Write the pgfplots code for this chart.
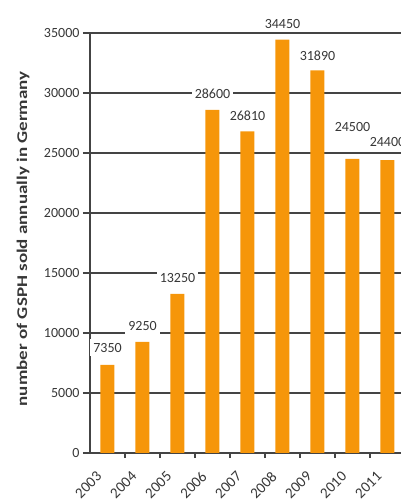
\documentclass[border=0pt]{standalone}
\usepackage{pgfplots}
\pgfplotsset{compat=1.18}
\usepackage{pgfplotstable}
\usepackage{fontspec}
\setmainfont{Carlito}

\definecolor{barorange}{RGB}{246,150,10}
\definecolor{griddark}{RGB}{68,68,68}
\definecolor{gridlight}{RGB}{165,165,165}
\definecolor{labelgray}{RGB}{55,55,55}

% GSPH units sold per year; off = vertical offset of the value label (pt)
\pgfplotstableread{
x  y     off
0  7350  17
1  9250  16
2  13250 16
3  28600 16.5
4  26810 16
5  34450 16
6  31890 15
7  24500 32
8  24400 18
}\sales

\begin{document}
\begin{tikzpicture}
\useasboundingbox (0,0) rectangle (400pt,504pt);
\begin{axis}[
  at={(90pt,51pt)}, anchor=south west,
  scale only axis, width=315pt, height=420pt,
  xmin=-0.5, xmax=8.5, ymin=0, ymax=35000,
  clip=false,
  axis lines=left,
  axis line style={-, griddark, line width=1.3pt},
  tick align=outside,
  major tick length=7pt,
  minor tick length=5pt,
  ytick={0,5000,...,30000},
  extra y ticks={35000},
  extra y tick style={grid style={gridlight, line width=1.7pt}, tick style={gridlight, line width=1.7pt}},
  ymajorgrids,
  major grid style={griddark, line width=1.4pt},
  ytick style={griddark, line width=1.4pt},
  scaled y ticks=false,
  xtick={0,...,8},
  xticklabels={2003,2004,2005,2006,2007,2008,2009,2010,2011},
  minor x tick num=1,
  major x tick style={draw=none},
  minor x tick style={griddark, line width=1.2pt},
  /pgf/number format/assume math mode=true,
  /pgf/number format/set thousands separator={},
  yticklabel style={font=\fontsize{14}{14}\selectfont, text=labelgray},
  xticklabel style={xshift=-12pt, yshift=-9pt, rotate=45, anchor=north east, inner sep=1pt,
    font=\fontsize{15}{15}\selectfont, text=labelgray},
  ylabel={\scalebox{1}[0.78]{number of GSPH sold annually in Germany}},
  every axis y label/.style={at={(axis description cs:-0.2127,0.51)}, rotate=90, anchor=center,
    font=\bfseries\fontsize{19}{19}\selectfont, text=labelgray},
]
\addplot[ybar, bar width=14pt, fill=barorange, draw=none] table[x=x, y=y] {\sales};
\addplot[draw=none, mark=none,
  point meta=explicit symbolic,
  visualization depends on={\thisrow{off} \as \labeloff},
  nodes near coords,
  nodes near coords style={anchor=center, yshift=\labeloff pt, fill=white,
    inner xsep=3pt, inner ysep=4pt, font=\fontsize{14}{14}\selectfont, text=labelgray}]
  table[x=x, y=y, meta=y] {\sales};
\end{axis}
\end{tikzpicture}
\end{document}
